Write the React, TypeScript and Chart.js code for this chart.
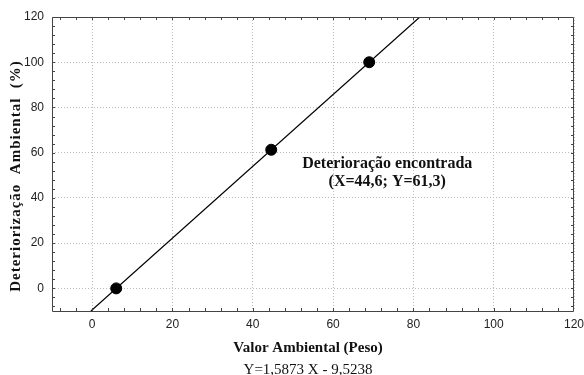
import React, { useEffect, useRef } from "react";
import { Chart, registerables } from "chart.js";

Chart.register(...registerables);

const pointsX = [6, 44.6, 69];
const pointsY = [0, 61.3, 100];
const lineX = [-0.3, 81.6];
const lineY = [-10, 120];
const xTicks = [0, 20, 40, 60, 80, 100, 120];
const yTicks = [0, 20, 40, 60, 80, 100, 120];
const xTitle = "Valor Ambiental (Peso)";
const yTitle = "Deteriorização  Ambiental  (%)";
const equation = "Y=1,5873 X - 9,5238";
const noteLines = ["Deterioração encontrada", "(X=44,6; Y=61,3)"];

const framePlugin = {
  id: "frame",
  afterDatasetsDraw(chart: any) {
    const { ctx, chartArea: a, scales } = chart;
    const xs = scales.x;
    const ys = scales.y;
    ctx.save();
    ctx.strokeStyle = "#444";
    ctx.lineWidth = 1;
    ctx.beginPath();
    ctx.rect(Math.round(a.left) + 0.5, Math.round(a.top) + 0.5, Math.round(a.right - a.left) - 1, Math.round(a.bottom - a.top));
    ctx.stroke();
    const len = 3;
    ctx.beginPath();
    for (let v = -8; v < 120; v += 4) {
      const px = Math.round(xs.getPixelForValue(v)) + 0.5;
      ctx.moveTo(px, a.bottom);
      ctx.lineTo(px, a.bottom - len);
      ctx.moveTo(px, a.top);
      ctx.lineTo(px, a.top + len);
    }
    for (let v = -8; v < 120; v += 4) {
      const py = Math.round(ys.getPixelForValue(v)) + 0.5;
      ctx.moveTo(a.left, py);
      ctx.lineTo(a.left + len, py);
      ctx.moveTo(a.right, py);
      ctx.lineTo(a.right - len, py);
    }
    ctx.stroke();
    ctx.restore();
  },
  afterDraw(chart: any) {
    const { ctx, chartArea: a, scales } = chart;
    const cx = (a.left + a.right) / 2 - 5;
    ctx.save();
    ctx.fillStyle = "#111";
    ctx.textAlign = "center";
    ctx.textBaseline = "middle";
    ctx.font = "bold 15px 'Liberation Serif'";
    ctx.fillText(xTitle, cx, 348);
    ctx.font = "15px 'Liberation Serif'";
    ctx.fillText(equation, cx, 370);
    ctx.save();
    ctx.translate(16, 176);
    ctx.rotate(-Math.PI / 2);
    ctx.font = "bold 15px 'Liberation Serif'";
    (ctx as any).letterSpacing = "1px";
    ctx.fillText(yTitle, 0, 0);
    ctx.restore();
    ctx.font = "bold 16px 'Liberation Serif'";
    const nx = scales.x.getPixelForValue(73.5);
    ctx.fillText(noteLines[0], nx, scales.y.getPixelForValue(55.2));
    ctx.fillText(noteLines[1], nx, scales.y.getPixelForValue(47.2));
    ctx.restore();
  },
};

export default function App() {
  const ref = useRef<HTMLCanvasElement>(null);
  useEffect(() => {
    document.body.style.margin = "0";
    const chart = new Chart(ref.current as HTMLCanvasElement, {
      type: "scatter",
      data: {
        datasets: [
          {
            type: "line",
            data: lineX.map((x, i) => ({ x, y: lineY[i] })),
            borderColor: "#000",
            borderWidth: 1.2,
            pointRadius: 0,
            fill: false,
          },
          {
            data: pointsX.map((x, i) => ({ x, y: pointsY[i] })),
            backgroundColor: "#000",
            borderColor: "#000",
            pointRadius: 5.5,
          },
        ],
      },
      options: {
        animation: false,
        responsive: false,
        devicePixelRatio: 1,
        layout: { padding: { left: 0, top: 17, right: 0, bottom: 0 } },
        plugins: { legend: { display: false }, tooltip: { enabled: false } },
        scales: {
          x: {
            type: "linear",
            min: -10,
            max: 120,
            afterBuildTicks: (s: any) => {
              s.ticks = xTicks.map((v) => ({ value: v }));
            },
            afterFit: (s: any) => {
              s.height = 64;
              s.paddingRight = 10;
              s.paddingLeft = 0;
            },
            border: { display: false, dash: [1, 2] },
            grid: { color: "#bbb", drawTicks: false, lineWidth: 1 },
            ticks: { padding: 6, color: "#222", font: { family: "'Liberation Sans'", size: 12 }, maxRotation: 0 },
          },
          y: {
            type: "linear",
            min: -10,
            max: 120,
            afterBuildTicks: (s: any) => {
              s.ticks = yTicks.map((v) => ({ value: v }));
            },
            afterFit: (s: any) => {
              s.width = 52;
            },
            border: { display: false, dash: [1, 2] },
            grid: { color: "#bbb", drawTicks: false, lineWidth: 1 },
            ticks: { padding: 8, color: "#222", font: { family: "'Liberation Sans'", size: 12 } },
          },
        },
      },
      plugins: [framePlugin],
    } as any);
    return () => chart.destroy();
  }, []);
  return (
    <div style={{ position: "fixed", left: 0, top: 0, width: 584, height: 375, background: "#fff" }}>
      <canvas ref={ref} width={584} height={375} />
    </div>
  );
}
